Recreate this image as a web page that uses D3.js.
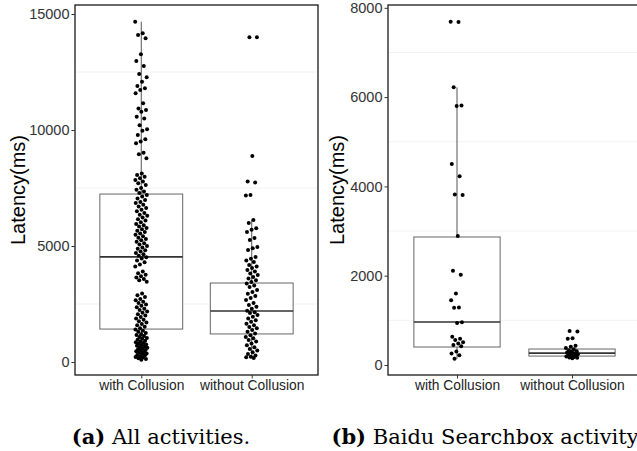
<!DOCTYPE html>
<html><head><meta charset="utf-8">
<script src="https://cdn.jsdelivr.net/npm/d3@7"></script>
<style>body{margin:0;background:#fff}svg{display:block}</style>
</head><body>
<svg id="c" width="637" height="451"></svg>
<script>
const categories = ["with Collusion", "without Collusion"];

// Panel (a): all activities
const allWith = [14670,14170,14100,13950,13260,12970,12760,12410,12270,12080,11900,11800,11720,11580,11150,10930,10860,10790,10570,10500,10210,10030,9970,9780,9600,9500,9430,9020,8960,8780,8130,8060,7990,7920,7850,7780,7700,7630,7500,7420,7350,7280,7200,7130,
7050,6980,6900,6850,6780,6700,6640,6560,6500,6420,6350,6300,6230,6150,6100,6020,5950,5900,5840,5780,5720,5660,5600,5540,5480,5420,5360,5300,5250,5180,5120,5060,5000,4940,4880,4820,4760,4700,4640,4580,4520,4460,4380,4300,4200,4120,
3900,3830,3760,3700,3640,3580,3520,3460,
2950,2880,2800,2720,2660,2600,2540,2480,2420,2360,2300,2240,2180,2120,2060,2000,1940,1880,1820,1760,1700,1640,1580,1520,1460,1400,1350,1300,
1250,1200,1160,1120,1080,1040,1000,960,920,880,850,820,790,760,730,700,670,640,610,580,550,520,490,460,430,400,370,340,310,280,250,220,190,160,130,100];
const allWithout = [14000,14000,8880,7780,7740,7200,7180,6120,5990,5770,5700,5600,5340,5260,4960,4900,4830,4530,4450,4380,4310,4180,4120,4050,3970,3900,3820,3750,3660,3600,3520,3450,3380,3300,3230,3100,3020,2940,2850,2760,2670,2540,2460,2380,2300,2210,2150,2110,2030,1950,1880,1800,1730,1650,1580,1510,1450,1380,1300,1230,1150,1080,1020,950,880,800,720,640,560,500,420,350,280,230,200,170];
// box stats: [lower whisker, q1, median, q3, upper whisker]
const allBoxWith = [100, 1420, 4530, 7240, 14670];
const allBoxWithout = [170, 1210, 2200, 3405, 6120];
const allTicks = [0, 5000, 10000, 15000];
const allMinor = [2500, 7500, 12500];

// Panel (b): Baidu Searchbox activity
const bdWith = [7690,7680,6220,5810,5800,4500,4230,3820,3810,2890,2110,2020,1600,1450,1290,1280,960,940,630,590,560,510,480,450,420,300,260,220,140];
const bdWithout = [760,750,600,590,430,410,380,350,330,310,300,280,260,250,240,230,220,210,200,190,180,170,160,150];
const bdBoxWith = [140, 403, 963, 2867, 6220];
const bdBoxWithout = [150, 200, 265, 358, 430];
const bdTicks = [0, 2000, 4000, 6000, 8000];
const bdMinor = [1000, 3000, 5000, 7000];

const captions = [["(a)", " All activities."], ["(b)", " Baidu Searchbox activity."]];

const svg = d3.select("#c");

function panel(cfg) {
  const {x0, x1, y0, y1, domain, ticks, minor, series, boxes, titleX} = cfg;
  const g = svg.append("g");
  const y = d3.scaleLinear().domain(domain).range([y1, y0]);
  const x = d3.scalePoint().domain(categories).range([x0, x1]).padding(0.6);
  const unit = x.step();
  g.selectAll(".mg").data(minor).join("line")
    .attr("x1", x0).attr("x2", x1).attr("y1", d => y(d)).attr("y2", d => y(d))
    .attr("stroke", "#f2f2f2").attr("stroke-width", 1);
  categories.forEach((c, k) => {
    const b = boxes[k], cx = x(c), hw = unit * 0.375;
    g.append("line").attr("x1", cx).attr("x2", cx).attr("y1", y(b[3])).attr("y2", y(b[4]))
      .attr("stroke", "#555").attr("stroke-width", 1);
    g.append("line").attr("x1", cx).attr("x2", cx).attr("y1", y(b[1])).attr("y2", y(b[0]))
      .attr("stroke", "#555").attr("stroke-width", 1);
    g.append("rect").attr("x", cx - hw).attr("width", 2 * hw)
      .attr("y", y(b[3])).attr("height", y(b[1]) - y(b[3]))
      .attr("fill", "#fff").attr("stroke", "#666").attr("stroke-width", 1);
    g.append("line").attr("x1", cx - hw).attr("x2", cx + hw).attr("y1", y(b[2])).attr("y2", y(b[2]))
      .attr("stroke", "#333").attr("stroke-width", 1.6);
  });
  categories.forEach((c, k) => {
    g.selectAll(".p" + k).data(series[k]).join("circle")
      .attr("cx", (d, i) => x(c) + (((i * 0.6180339 + k * 0.31) % 1) - 0.5) * unit * 0.11)
      .attr("cy", d => y(d)).attr("r", 2).attr("fill", "#000");
  });
  g.append("rect").attr("x", x0).attr("y", y0).attr("width", x1 - x0).attr("height", y1 - y0)
    .attr("fill", "none").attr("stroke", "#1a1a1a").attr("stroke-width", 1.3);
  const ya = g.append("g").attr("transform", `translate(${x0},0)`)
    .call(d3.axisLeft(y).tickValues(ticks).tickSize(3.5).tickPadding(2).tickFormat(d3.format("d")));
  ya.select(".domain").remove();
  ya.selectAll("line").attr("stroke", "#333");
  ya.selectAll("text").attr("font-family", "Liberation Sans, Arial, sans-serif").attr("font-size", 14.5).attr("fill", "#333");
  const xa = g.append("g").attr("transform", `translate(0,${y1})`)
    .call(d3.axisBottom(x).tickSize(3.5).tickPadding(2));
  xa.select(".domain").remove();
  xa.selectAll("line").attr("stroke", "#333");
  xa.selectAll("text").attr("font-family", "Liberation Sans, Arial, sans-serif").attr("font-size", 13.8).attr("fill", "#222");
  g.append("text").attr("transform", `translate(${titleX},${(y0 + y1) / 2}) rotate(-90)`)
    .attr("text-anchor", "middle").attr("font-family", "Liberation Sans, Arial, sans-serif")
    .attr("font-size", 20).attr("fill", "#000").text("Latency(ms)");
}

panel({x0: 75, x1: 318, y0: 5, y1: 375, domain: [-560, 15388], ticks: allTicks, minor: allMinor,
  series: [allWith, allWithout], boxes: [allBoxWith, allBoxWithout], titleX: 25});
panel({x0: 388, x1: 641, y0: 5, y1: 375, domain: [-224, 8063], ticks: bdTicks, minor: bdMinor,
  series: [bdWith, bdWithout], boxes: [bdBoxWith, bdBoxWithout], titleX: 344});

[[161, captions[0]], [487, captions[1]]].forEach(([cx, cap]) => {
  const t = svg.append("text").attr("x", cx).attr("y", 444).attr("text-anchor", "middle")
    .attr("font-family", "DejaVu Serif, serif").attr("font-size", 21).attr("fill", "#000");
  t.append("tspan").attr("font-weight", "bold").text(cap[0]);
  t.append("tspan").text(cap[1]);
});
</script>
</body></html>
